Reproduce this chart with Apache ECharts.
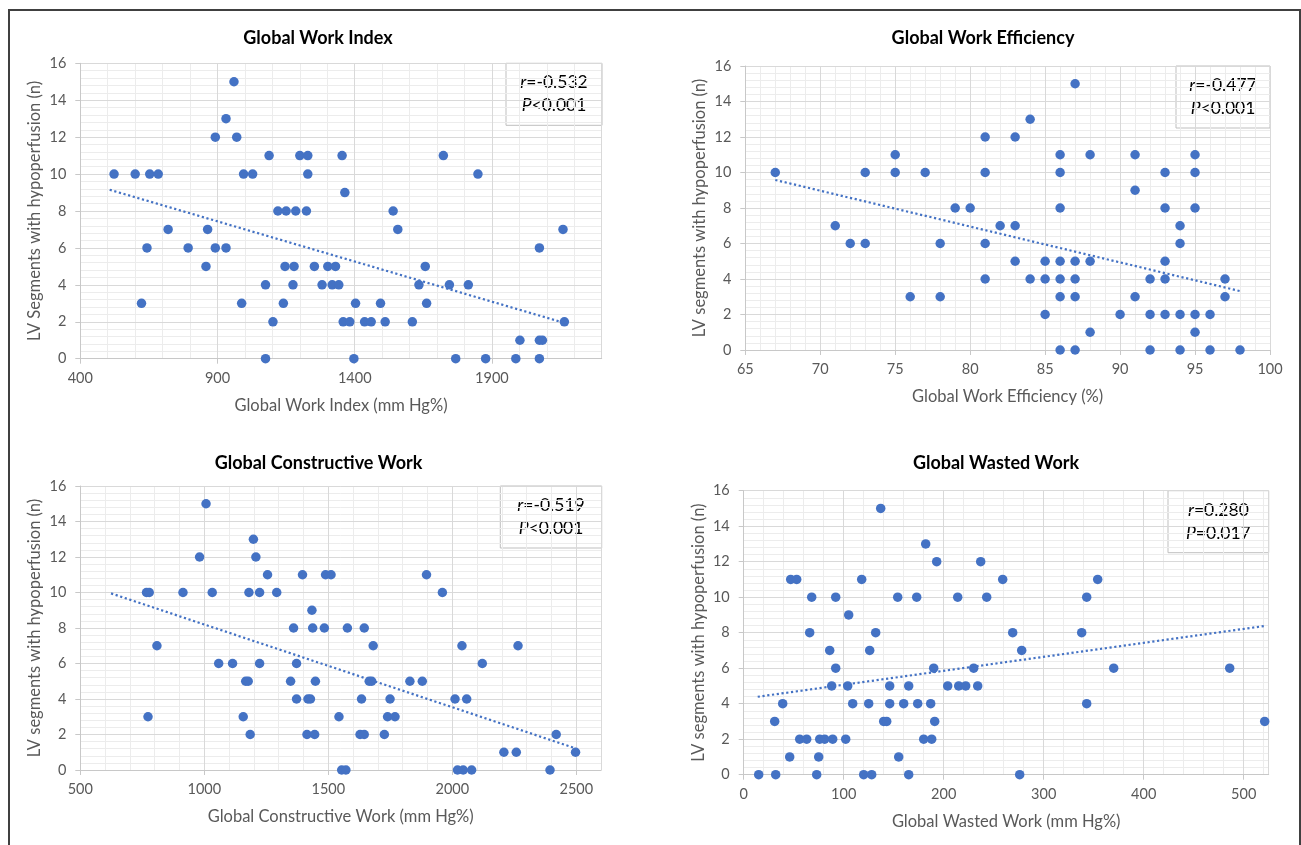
<!DOCTYPE html>
<html><head><meta charset="utf-8">
<script src="https://cdn.jsdelivr.net/npm/echarts@6/dist/echarts.min.js"></script>
<style>html,body{margin:0;padding:0;background:#fff}#c{width:1301px;height:845px}</style>
</head><body><div id="c"></div>
<script>
// ---------- DATA ----------
const titles = ['Global Work Index', 'Global Work Efficiency', 'Global Constructive Work', 'Global Wasted Work'];
const xNames = ['Global Work Index (mm Hg%)', 'Global Work Efficiency (%)', 'Global Constructive Work (mm Hg%)', 'Global Wasted Work (mm Hg%)'];
const yNames = ['LV Segments with hypoperfusion (n)', 'LV segments with hypoperfusion (n)', 'LV segments with hypoperfusion (n)', 'LV segments with hypoperfusion (n)'];
const rTexts = ['-0.532', '-0.477', '-0.519', '0.280'];
const pTexts = ['<0.001', '<0.001', '<0.001', '=0.017'];

// Global Work Index (mm Hg%)
const gwiX = [523,600,653,684,623,643,720,793,858,864,892,892,931,931,960,970,988,995,1028,1075,1075,1088,1102,1120,1140,1146,1150,1175,1179,1185,1200,1224,1229,1229,1253,1281,1302,1318,1330,1342,1354,1364,1358,1382,1397,1403,1436,1460,1494,1511,1540,1557,1610,1634,1657,1662,1723,1745,1768,1814,1849,1877,1987,2002,2073,2073,2084,2073,2159,2164];
const gwiY = [10,10,10,10,3,6,7,6,5,7,12,6,13,6,15,12,3,10,10,4,0,11,2,8,3,5,8,4,5,8,11,8,11,10,5,4,5,4,5,4,11,9,2,2,0,3,2,2,3,2,8,7,2,4,5,3,11,4,0,4,10,0,0,1,6,1,1,0,7,2];

// Global Work Efficiency (%)
const gweX = [67,71,72,73,73,75,75,76,77,78,78,79,80,87,84,81,83,86,88,91,95,81,86,93,95,91,86,93,95,82,83,94,81,94,83,85,86,87,88,93,81,84,85,86,87,92,93,97,86,87,91,97,85,90,92,93,94,95,96,88,95,86,87,92,94,96,98];
const gweY = [10,7,6,10,6,11,10,3,10,6,3,8,8,15,13,12,12,11,11,11,11,10,10,10,10,9,8,8,8,7,7,7,6,6,5,5,5,5,5,5,4,4,4,4,4,4,4,4,3,3,3,3,2,2,2,2,2,2,2,1,1,0,0,0,0,0,0];

// Global Constructive Work (mm Hg%)
const gcwX = [767,778,773,809,914,981,1007,1032,1058,1114,1157,1167,1177,1180,1185,1198,1208,1223,1223,1255,1292,1348,1360,1372,1372,1396,1414,1418,1428,1434,1437,1445,1448,1484,1489,1511,1543,1554,1571,1577,1634,1628,1645,1645,1665,1675,1681,1726,1739,1769,1749,1829,1879,1896,1960,2011,2021,2044,2078,2039,2058,2121,2208,2258,2265,2394,2419,2497];
const gcwY = [10,10,3,7,10,12,15,10,6,6,3,5,5,10,2,13,12,10,6,11,10,5,8,6,4,11,2,4,4,9,8,2,5,8,11,11,3,0,0,8,4,2,2,8,5,5,7,2,3,3,4,5,5,11,10,4,0,0,0,7,4,6,1,1,7,0,2,1];

// Global Wasted Work (mm Hg%)
const gwwX = [15,31,32,39,46,47,53,56,63,66,68,73,75,76,81,86,88,89,92,92,102,104,105,109,118,120,125,126,128,132,137,140,143,146,146,154,155,160,165,165,173,174,180,182,187,188,190,191,193,204,214,215,222,230,234,237,243,259,269,276,278,338,343,343,354,370,486,521];
const gwwY = [0,3,0,4,1,11,11,2,2,8,10,0,1,2,2,7,5,2,10,6,2,5,9,4,11,0,4,7,0,8,15,3,3,5,4,10,1,4,5,0,10,4,2,13,4,2,6,3,12,5,10,5,5,6,5,12,10,11,8,0,7,8,10,4,11,6,6,3];

// Linear trend lines (end points)
const trendX = [[507, 2150], [67, 98], [624, 2497], [14, 521]];
const trendY = [[9.15, 2.0], [9.58, 3.32], [9.95, 1.22], [4.39, 8.38]];

// Axis ranges and ticks
const xMin = [400, 65, 500, 0];
const xMax = [2300, 100, 2600, 525];
const xStep = [500, 5, 500, 100];
const xMinorStep = [100, 1, 100, 20];
const yMin = 0, yMax = 16, yStep = 2, yMinorStep = 0.4;

const seriesX = [gwiX, gweX, gcwX, gwwX];
const seriesY = [gwiY, gweY, gcwY, gwwY];

// ---------- LAYOUT ----------
const layout = [
  {left: 80.3, top: 63.3, width: 521.4, height: 295.4, tx: 318, ty: 28.5, box: [506, 63.3, 96, 62]},
  {left: 745.3, top: 66, width: 524.7, height: 284, tx: 983, ty: 28.5, box: [1176, 66, 94, 62]},
  {left: 80.3, top: 486, width: 520.8, height: 284, tx: 318.5, ty: 453, box: [500.3, 486, 101.4, 62]},
  {left: 743.7, top: 490.7, width: 525, height: 284, tx: 996, ty: 453, box: [1168, 490.7, 100.7, 62]}
];

const FONT = 'Lato, "Open Sans", sans-serif';
const BLUE = '#4472C4';
const GREY_TXT = '#595959';

const grids = [], xAxes = [], yAxes = [], series = [], titleArr = [], graphics = [];

layout.forEach((L, i) => {
  grids.push({left: L.left, top: L.top, width: L.width, height: L.height, containLabel: false});
  titleArr.push({
    text: titles[i], left: L.tx, top: L.ty, textAlign: 'center', padding: 0,
    textStyle: {fontFamily: FONT, fontSize: 18, fontWeight: 'bold', color: '#000', lineHeight: 20}
  });
  // minor x axis (gridlines only)
  xAxes.push({
    gridIndex: i, type: 'value', position: 'bottom', min: xMin[i], max: xMax[i], interval: xMinorStep[i], z: 0,
    axisLine: {show: false}, axisTick: {show: false}, axisLabel: {show: false},
    splitLine: {show: true, lineStyle: {color: '#ececec', width: 1}}
  });
  // major x axis
  xAxes.push({
    gridIndex: i, type: 'value', position: 'bottom', min: xMin[i], max: xMax[i], interval: xStep[i], z: 1,
    name: xNames[i], nameLocation: 'middle', nameGap: 38,
    nameTextStyle: {fontFamily: FONT, fontSize: 16.5, color: GREY_TXT},
    axisLine: {show: true, onZero: false, lineStyle: {color: '#c8c8c8', width: 1}},
    axisTick: {show: true, length: 5, lineStyle: {color: '#c8c8c8'}},
    axisLabel: {show: true, margin: 12, fontFamily: FONT, fontSize: 14.5, color: GREY_TXT,
      formatter: v => String(v),
      showMaxLabel: (xMax[i] - xMin[i]) % xStep[i] === 0},
    splitLine: {show: true, lineStyle: {color: '#d9d9d9', width: 1}}
  });
  yAxes.push({
    gridIndex: i, type: 'value', position: 'left', min: yMin, max: yMax, interval: yMinorStep, z: 0,
    axisLine: {show: false}, axisTick: {show: false}, axisLabel: {show: false},
    splitLine: {show: true, lineStyle: {color: '#ececec', width: 1}}
  });
  yAxes.push({
    gridIndex: i, type: 'value', position: 'left', min: yMin, max: yMax, interval: yStep, z: 1,
    name: yNames[i], nameLocation: 'middle', nameGap: 37, nameRotate: 90,
    nameTextStyle: {fontFamily: FONT, fontSize: 16.5, color: GREY_TXT},
    axisLine: {show: true, onZero: false, lineStyle: {color: '#c8c8c8', width: 1}},
    axisTick: {show: true, length: 5, lineStyle: {color: '#c8c8c8'}},
    axisLabel: {show: true, margin: 14, fontFamily: FONT, fontSize: 14.5, color: GREY_TXT,
      formatter: v => String(v)},
    splitLine: {show: true, lineStyle: {color: '#d9d9d9', width: 1}}
  });
  series.push({
    type: 'scatter', xAxisIndex: 2 * i + 1, yAxisIndex: 2 * i + 1,
    data: seriesX[i].map((x, k) => [x, seriesY[i][k]]),
    symbol: 'circle', symbolSize: 9.5, itemStyle: {color: BLUE, opacity: 1},
    z: 3, silent: true
  });
  series.push({
    type: 'line', xAxisIndex: 2 * i + 1, yAxisIndex: 2 * i + 1,
    data: [[trendX[i][0], trendY[i][0]], [trendX[i][1], trendY[i][1]]],
    symbol: 'none', showSymbol: false,
    lineStyle: {color: BLUE, width: 2.2, type: [2.2, 2.6]},
    z: 4, silent: true
  });
  const [bx, by, bw, bh] = L.box;
  graphics.push({
    type: 'group', z: 20,
    children: [
      {type: 'rect', shape: {x: bx, y: by, width: bw, height: bh},
       style: {fill: '#fff', stroke: '#bfbfbf', lineWidth: 1}},
      {type: 'text', x: bx + bw / 2, y: by + bh / 2,
       style: {
         text: '{i|r}=' + rTexts[i] + '\n{i|P}' + pTexts[i],
         align: 'center', verticalAlign: 'middle',
         fontFamily: FONT, fontSize: 17.5, fill: '#000', lineHeight: 23,
         rich: {i: {fontStyle: 'italic', fontFamily: FONT, fontSize: 17.5, fill: '#000', lineHeight: 23}}
       }}
    ]
  });
});

graphics.push({
  type: 'rect', z: 30, silent: true,
  shape: {x: 9, y: 10, width: 1291, height: 860},
  style: {fill: 'none', stroke: '#404040', lineWidth: 2}
});

const chart = echarts.init(document.getElementById('c'), null, {renderer: 'canvas'});
chart.setOption({
  animation: false,
  backgroundColor: '#fff',
  textStyle: {fontFamily: FONT},
  title: titleArr,
  grid: grids,
  xAxis: xAxes,
  yAxis: yAxes,
  series: series,
  graphic: graphics
});
</script></body></html>
